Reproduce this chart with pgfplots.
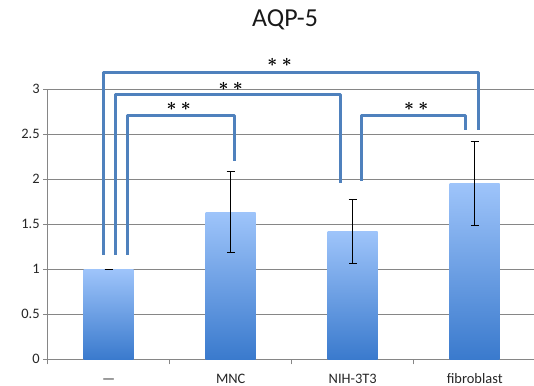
\documentclass[border=0pt]{standalone}
\usepackage{pgfplots}
\pgfplotsset{compat=1.18}
\usepackage{fontspec}
\setmainfont{Carlito}
\definecolor{brk}{RGB}{79,129,189}
\definecolor{barTop}{RGB}{158,196,250}
\definecolor{barBot}{RGB}{58,122,205}
\definecolor{gridc}{RGB}{134,134,134}
\newcommand{\stars}{{\boldmath$\ast\hspace{4.5bp}\ast$}}
\begin{document}
\begin{tikzpicture}
\useasboundingbox (-47.7bp,-26.7bp) rectangle (486.3bp,359.3bp);
\begin{axis}[
  at={(0,0)}, anchor=south west,
  scale only axis, width=486.3bp, height=270bp,
  xmin=-0.5, xmax=3.486, ymin=0, ymax=3,
  clip=false,
  axis x line*=bottom, axis y line*=left,
  axis line style={draw=gridc, line width=0.9bp},
  ytick={0,0.5,1,1.5,2,2.5,3},
  yticklabels={0,0.5,1,1.5,2,2.5,3},
  ymajorgrids, grid style={draw=gridc, line width=0.9bp},
  xtick={0,1,2,3}, xticklabels={—,MNC,NIH-3T3,fibroblast},
  minor xtick={-0.5,0.5,1.5,2.5},
  major x tick style={draw=none},
  minor x tick style={draw=gridc, line width=0.9bp},
  y tick style={draw=gridc, line width=0.9bp},
  tick align=outside,
  minor tick length=5bp, major tick length=4.5bp,
  ticklabel style={font=\fontsize{14.5}{15}\selectfont, text=black!85},
  /pgf/number format/assume math mode=true,
  xticklabel style={anchor=base, yshift=-20bp},
  title={AQP-5},
  title style={at={(0.488,1.2096)}, anchor=base, font=\fontsize{26}{26}\selectfont, text=black!90},
]
\addplot[ybar, bar width=0.41, bar shift=0pt, draw=none, top color=barTop, bottom color=barBot] coordinates {(0,1)};
\addplot[ybar, bar width=0.41, bar shift=0pt, draw=none, top color=barTop, bottom color=barBot] coordinates {(1,1.633)};
\addplot[ybar, bar width=0.41, bar shift=0pt, draw=none, top color=barTop, bottom color=barBot] coordinates {(2,1.418)};
\addplot[ybar, bar width=0.41, bar shift=0pt, draw=none, top color=barTop, bottom color=barBot] coordinates {(3,1.956)};
\addplot[draw=none, mark=none, error bars/.cd, y dir=both, y explicit,
  error bar style={draw=black, line width=0.8bp},
  error mark=-,
  error mark options={draw=black, line width=0.8bp, mark size=4bp, rotate=90}]
  coordinates {(0,1) +- (0,0) (1,1.633) +- (0,0.45) (2,1.418) +- (0,0.356) (3,1.956) +- (0,0.465)};
\addplot[brk, line width=3bp, line join=round, mark=none] coordinates {(-0.043,1.16) (-0.043,3.19) (3.035,3.19) (3.035,2.55)};
\addplot[brk, line width=3bp, line join=round, mark=none] coordinates {(0.052,1.16) (0.052,2.944) (1.896,2.944) (1.896,1.955)};
\addplot[brk, line width=3bp, line join=round, mark=none] coordinates {(0.150,1.16) (0.150,2.707) (1.035,2.707) (1.035,2.20)};
\addplot[brk, line width=3bp, line join=round, mark=none] coordinates {(2.076,1.985) (2.076,2.707) (2.925,2.707) (2.925,2.55)};
\node[font=\fontsize{17}{17}\selectfont, text=black] at (axis cs:1.40,3.30) {\stars};
\node[font=\fontsize{17}{17}\selectfont, text=black] at (axis cs:1.00,3.03) {\stars};
\node[font=\fontsize{17}{17}\selectfont, text=black] at (axis cs:0.574,2.81) {\stars};
\node[font=\fontsize{17}{17}\selectfont, text=black] at (axis cs:2.52,2.81) {\stars};
\end{axis}
\end{tikzpicture}
\end{document}
